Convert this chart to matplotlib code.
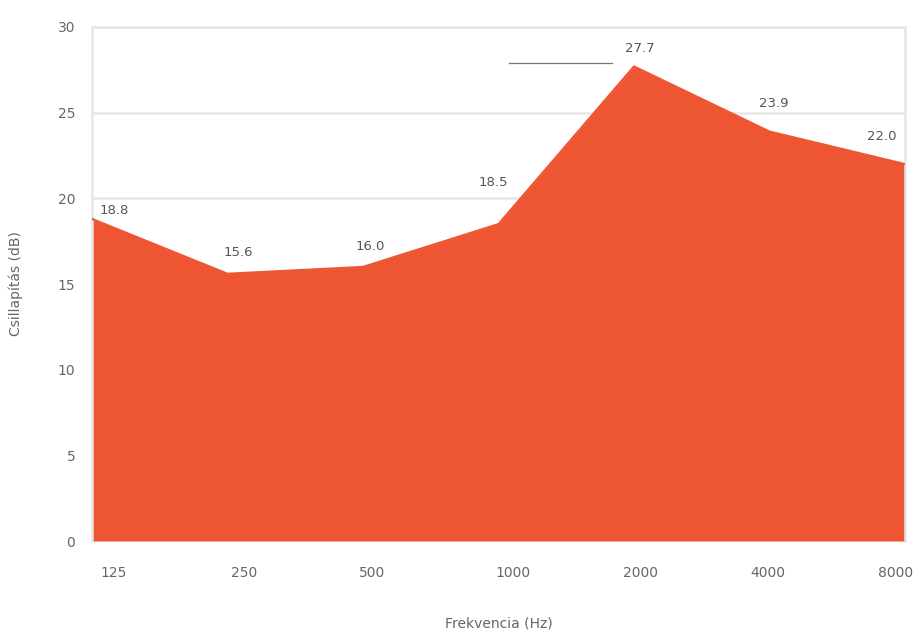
import matplotlib.pyplot as plt
from matplotlib.transforms import ScaledTranslation

# Csillapítás frekvenciánként
frequencies = ["125", "250", "500", "1000", "2000", "4000", "8000"]
attenuation = [18.8, 15.6, 16.0, 18.5, 27.7, 23.9, 22.0]

FILL = "#EE5533"
GRID = "#E6E6E6"
TEXT = "#666666"

fig = plt.figure(figsize=(9.23, 6.35), dpi=100)
ax = fig.add_axes([0.0997, 0.148, 0.8808, 0.8095])

x = range(len(frequencies))
ax.fill_between(x, attenuation, 0, color=FILL, linewidth=0, zorder=2)
ax.plot(x, attenuation, color=FILL, linewidth=1.5, zorder=3)

# value labels (end ones nudged to stay inside)
label_dx = [16, 8, 5, -4, 4, 3, -17]
label_dy = [6, 15, 15, 30, 13, 20, 20]
for i, v in enumerate(attenuation):
    ax.annotate(
        "{:.1f}".format(v),
        (i, v),
        xytext=(label_dx[i], label_dy[i]),
        textcoords="offset points",
        ha="center",
        va="center",
        fontsize=9.5,
        color="#555555",
        zorder=4,
    )

# short leader line near the peak label
ax.plot([3.08, 3.84], [27.9, 27.9], color="#777777", linewidth=0.9, zorder=4,
        clip_on=False)

ax.set_xlim(0, len(frequencies) - 1)
ax.set_ylim(0, 30)
ax.set_yticks(range(0, 31, 5))
ax.set_xticks(list(x))
ax.set_xticklabels(frequencies)
ax.tick_params(axis="both", length=0, colors=TEXT, labelsize=10)
ax.tick_params(axis="x", pad=18)
ax.tick_params(axis="y", pad=12)

# tick labels sit slightly off their points, like the original
tick_dx = [22, 17, 9, 14, 6, -2, -9]
for lbl, dx in zip(ax.get_xticklabels(), tick_dx):
    lbl.set_transform(lbl.get_transform()
                      + ScaledTranslation(dx / 100, 0, fig.dpi_scale_trans))

ax.grid(axis="y", color=GRID, linewidth=1.8, zorder=0)
ax.set_axisbelow(True)
for side in ["top", "right", "left"]:
    ax.spines[side].set_color(GRID)
    ax.spines[side].set_linewidth(1.8)
ax.spines["bottom"].set_visible(False)

ax.set_xlabel("Frekvencia (Hz)", color=TEXT, fontsize=10, labelpad=26)
ax.set_ylabel("Csillapítás (dB)", color=TEXT, fontsize=10, labelpad=25)

fig.savefig("out.png", dpi=100)
